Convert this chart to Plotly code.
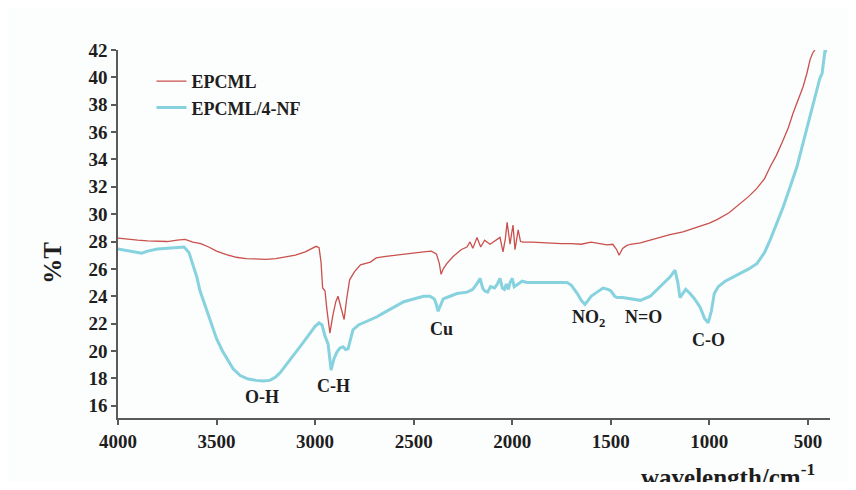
import plotly.graph_objects as go

# ---- data ----
red_wn = [4000, 3950, 3900, 3850, 3800, 3750, 3700, 3660, 3620, 3580, 3540, 3500, 3450, 3400,
          3350, 3300, 3250, 3200, 3150, 3100, 3050, 3020, 2995, 2980, 2970, 2962, 2950, 2940,
          2925, 2910, 2895, 2884, 2870, 2853, 2840, 2825, 2800, 2770, 2720, 2690, 2650, 2600,
          2550, 2500, 2450, 2410, 2385, 2370, 2361, 2350, 2331, 2300, 2260, 2230, 2214, 2200,
          2179, 2160, 2140, 2113, 2090, 2062, 2047, 2035, 2026, 2018, 2011, 2003, 1996, 1986,
          1978, 1970, 1958, 1945, 1900, 1850, 1800, 1750, 1700, 1650, 1600, 1560, 1520, 1490,
          1470, 1458, 1440, 1420, 1400, 1350, 1300, 1250, 1200, 1134, 1100, 1050, 1000, 961,
          900, 844, 800, 758, 720, 692, 660, 626, 600, 575, 550, 525, 505, 489, 475, 465]
red_t = [28.25, 28.15, 28.1, 28.05, 28.05, 28.0, 28.1, 28.15, 27.95, 27.85, 27.6, 27.3, 27.05, 26.85,
         26.75, 26.7, 26.7, 26.75, 26.85, 27.0, 27.25, 27.5, 27.65, 27.55, 26.5, 24.6, 24.4, 23.0,
         21.3, 22.6, 23.6, 24.0, 23.2, 22.3, 23.8, 25.2, 25.8, 26.3, 26.5, 26.8, 26.9, 27.0,
         27.1, 27.2, 27.25, 27.3, 27.1, 26.4, 25.6, 26.0, 26.4, 26.9, 27.4, 27.6, 27.97, 27.5,
         28.3, 27.6, 28.1, 27.8, 28.0, 28.3, 27.25, 28.2, 29.4, 28.4, 27.8, 28.6, 29.2, 27.4,
         28.2, 28.85, 28.0, 27.95, 27.95, 27.9, 27.9, 27.85, 27.85, 27.8, 27.95, 27.85, 27.75, 27.8,
         27.4, 27.0, 27.5, 27.7, 27.8, 27.9, 28.1, 28.3, 28.5, 28.7, 28.85, 29.1, 29.35, 29.6,
         30.1, 30.8, 31.3, 31.9, 32.6, 33.45, 34.3, 35.4, 36.3, 37.4, 38.3, 39.3, 40.3, 41.3, 41.8, 42.0]

cyan_wn = [4000, 3950, 3900, 3880, 3850, 3800, 3750, 3700, 3665, 3640, 3600, 3584, 3550, 3533,
           3500, 3470, 3447, 3416, 3380, 3340, 3300, 3264, 3230, 3200, 3178, 3150, 3120, 3077,
           3040, 3000, 2980, 2965, 2950, 2934, 2919, 2905, 2890, 2875, 2858, 2845, 2833, 2820,
           2808, 2780, 2750, 2700, 2686, 2650, 2600, 2550, 2500, 2450, 2417, 2395, 2385, 2376,
           2365, 2350, 2316, 2280, 2229, 2200, 2180, 2163, 2150, 2140, 2125, 2110, 2090, 2075,
           2062, 2050, 2040, 2030, 2020, 2011, 2000, 1990, 1970, 1950, 1925, 1900, 1850, 1808,
           1750, 1722, 1700, 1670, 1650, 1631, 1615, 1600, 1570, 1539, 1515, 1500, 1480, 1468,
           1440, 1400, 1350, 1300, 1265, 1230, 1200, 1174, 1160, 1149, 1120, 1098, 1075, 1047,
           1025, 1006, 990, 975, 955, 920, 880, 844, 800, 758, 720, 692, 660, 626, 590, 555,
           530, 504, 480, 454, 440, 428, 418, 413, 408]
cyan_t = [27.45, 27.35, 27.2, 27.15, 27.3, 27.45, 27.5, 27.6, 27.6, 27.2, 25.4, 24.4, 23.0, 22.3,
          20.9, 20.0, 19.4, 18.7, 18.2, 17.95, 17.85, 17.8, 17.85, 18.1, 18.4, 18.9, 19.5, 20.3,
          21.0, 21.8, 22.05, 21.9, 21.1, 20.5, 18.6, 19.4, 19.9, 20.2, 20.3, 20.1, 20.15, 21.0,
          21.55, 21.9, 22.1, 22.4, 22.5, 22.8, 23.2, 23.6, 23.8, 24.0, 24.0, 23.8, 23.4, 22.9,
          23.3, 23.8, 24.0, 24.2, 24.3, 24.5, 24.9, 25.3, 24.6, 24.4, 24.3, 24.7, 24.6, 24.9,
          25.3, 24.6, 24.5, 24.9, 24.5, 25.0, 25.3, 24.7, 24.9, 25.1, 25.0, 25.0, 25.0, 25.0,
          25.05, 25.0, 24.8, 24.2, 23.7, 23.4, 23.7, 24.0, 24.3, 24.6, 24.5, 24.4, 24.0, 23.9,
          23.9, 23.8, 23.7, 24.0, 24.5, 25.0, 25.4, 25.9, 25.0, 23.9, 24.5, 24.2, 23.8, 23.2,
          22.4, 22.05, 22.9, 24.2, 24.7, 25.1, 25.4, 25.7, 26.0, 26.4, 27.2, 28.1, 29.2, 30.5, 32.0, 33.5,
          34.9, 36.4, 37.8, 39.1, 39.9, 40.3, 41.5, 42.0, 41.8]

labels = ["O-H", "C-H", "Cu", "NO<sub>2</sub>", "N=O", "C-O"]
label_wn = [3270, 2905, 2360, 1612, 1336, 1006]
label_t = [16.65, 17.45, 21.6, 22.35, 22.5, 20.8]

x_ticks = [4000, 3500, 3000, 2500, 2000, 1500, 1000, 500]
y_ticks = list(range(16, 43, 2))

SERIF = "Liberation Serif"
AXIS = "#5a5a5a"
TXT = "#1e1e1e"

fig = go.Figure()
fig.add_trace(go.Scatter(x=red_wn, y=red_t, mode="lines", name="EPCML",
                         line=dict(color="#c9504c", width=1.3), legendgroup="a"))
fig.add_trace(go.Scatter(x=cyan_wn, y=cyan_t, mode="lines", name="EPCML/4-NF",
                         line=dict(color="#86d2de", width=3), legendgroup="b"))

for t, xv, yv in zip(labels, label_wn, label_t):
    fig.add_annotation(x=xv, y=yv, text=t, showarrow=False,
                       font=dict(family=SERIF, size=18, color=TXT, weight="bold"))

fig.add_annotation(xref="paper", yref="paper", x=-0.0913, y=0.422, xanchor="center", yanchor="middle",
                   text="%T", textangle=-90, showarrow=False,
                   font=dict(family=SERIF, size=25, color=TXT, weight="bold"))
fig.add_annotation(xref="paper", yref="paper", x=0.982, y=-0.105, xanchor="right", yanchor="top",
                   text="wavelength/cm<sup>-1</sup>", showarrow=False,
                   font=dict(family=SERIF, size=25, color=TXT, weight="bold"))

fig.update_layout(
    width=840, height=474,
    margin=dict(l=110, r=18, t=42, b=64),
    paper_bgcolor="#fcfdfd", plot_bgcolor="#fcfdfd",
    showlegend=True,
    legend=dict(x=0.047, y=0.965, xanchor="left", yanchor="top", bgcolor="rgba(0,0,0,0)",
                font=dict(family=SERIF, size=18, color=TXT, weight="bold"),
                itemwidth=30, tracegroupgap=0),
    xaxis=dict(range=[4000, 388], tickvals=x_ticks, showgrid=False, zeroline=False,
               showline=True, linecolor=AXIS, linewidth=1.5, ticks="outside", ticklen=5,
               tickcolor=AXIS, tickwidth=1.5,
               tickfont=dict(family=SERIF, size=19, color=TXT, weight="bold")),
    yaxis=dict(range=[15.1, 42], tickvals=y_ticks, showgrid=False, zeroline=False,
               showline=True, linecolor=AXIS, linewidth=1.5, ticks="outside", ticklen=5,
               tickcolor=AXIS, tickwidth=1.5,
               tickfont=dict(family=SERIF, size=19, color=TXT, weight="bold")),
)

fig.write_html("out.html")
